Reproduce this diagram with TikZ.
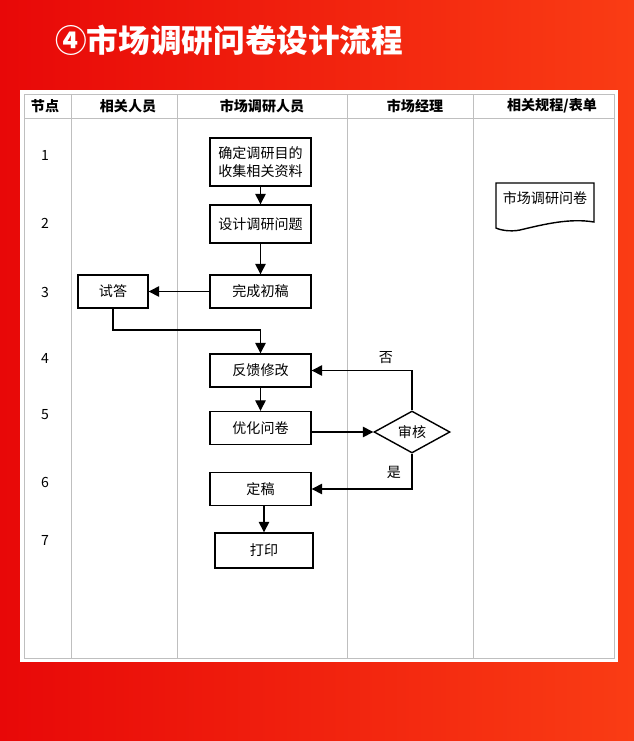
\documentclass[tikz,border=0pt]{standalone}
\usepackage{fontspec}
\setmainfont{Noto Sans CJK SC}
\usetikzlibrary{shapes.geometric,arrows.meta}
\definecolor{bgred}{RGB}{232,8,8}
\definecolor{bgorange}{RGB}{250,60,20}
\begin{document}
\begin{tikzpicture}[x=0.02cm, y=-0.02cm,
    font=\fontsize{8}{10}\selectfont,
    step box/.style={draw, thick, minimum width=2.02cm, minimum height=0.66cm, align=center, inner sep=1pt},
    flow/.style={-{Triangle[length=6pt,width=6pt]}, thick},
    lane/.style={draw=gray!50, line width=0.4pt}
]
    % --- background and panel ---
    \shade[left color=bgred, right color=bgorange] (0,0) rectangle (634,741);
    \useasboundingbox (0,0) rectangle (634,741);
    \node[text=white, font=\fontsize{18}{22}\selectfont\bfseries, anchor=west, inner sep=0pt] (title) at (55,40) {④市场调研问卷设计流程};
    \fill[white] (20,90) rectangle (618,662);
    \draw[lane] (24,94) rectangle (614,658);
    \draw[lane] (24,118) -- (614,118);
    \foreach \x in {71,177,347,473} \draw[lane] (\x,94) -- (\x,658);

    % --- header ---
    \begin{scope}[every node/.style={font=\fontsize{8}{10}\selectfont\bfseries}]
        \node at (45,106) {节点};
        \node at (128,106) {相关人员};
        \node at (262,106) {市场调研人员};
        \node at (415,106) {市场经理};
        \node at (552,106) {相关规程/表单};
    \end{scope}

    % --- step numbers ---
    \foreach \n/\y in {1/155,2/223,3/292,4/358,5/415,6/482,7/540}
        \node at (45,\y) {\n};

    % --- steps ---
    \node[step box, minimum height=0.96cm] (goal) at (260.5,162) {确定调研目的\\收集相关资料};
    \node[step box, minimum height=0.76cm] (design) at (260.5,224) {设计调研问题};
    \node[step box] (draft) at (260.5,291.5) {完成初稿};
    \node[step box, minimum width=1.4cm] (trial) at (113,291.5) {试答};
    \node[step box] (revise) at (260.5,370.5) {反馈修改};
    \node[step box] (optim) at (260.5,428) {优化问卷};
    \node[draw, thick, diamond, aspect=1.8, minimum width=1.52cm, minimum height=0.84cm, inner sep=0pt] (check) at (412,432) {审核};
    \node[step box] (final) at (260.5,489) {定稿};
    \node[step box, minimum width=1.96cm, minimum height=0.7cm] (print) at (264,550.5) {打印};
    \node (form) at (545,198) {市场调研问卷};
    \draw[thick] (496,183) -- (594,183) -- (594,222)
        .. controls (570,218) and (545,224) .. (520,230)
        .. controls (510,232) and (500,230) .. (496,228) -- cycle;

    % --- connectors ---
    \draw[flow] (goal) -- (design);
    \draw[flow] (design) -- (draft);
    \draw[flow] (draft) -- (trial);
    \draw[flow] (trial.south) |- (260.5,330) -- (revise.north);
    \draw[flow] (optim.east |- check.west) -- (check.west);
    \draw[flow] (check.north) |- (revise.east);
    \draw[flow] (check.south) |- (final.east);
    \draw[flow] (revise) -- (optim);
    \draw[flow] (final.south -| print.north) -- (print.north);
    \node (no) at (386,358) {否};
    \node (yes) at (394,472) {是};
\end{tikzpicture}
\end{document}
